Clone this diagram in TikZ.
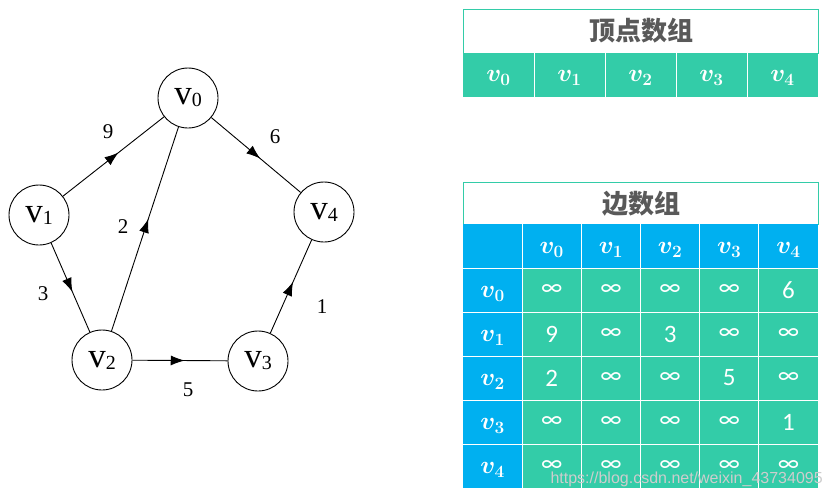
\documentclass[tikz,border=0pt]{standalone}
\usepackage{fontspec}
\setmainfont{Liberation Serif}
\newfontfamily\cjk{Noto Sans CJK SC}
\newfontfamily\calibri{Carlito}
\newfontfamily\wmfont{Liberation Sans}
\usepackage{tikz}
\usetikzlibrary{arrows.meta,decorations.markings}

\definecolor{tgreen}{RGB}{51,204,168}
\definecolor{tblue}{RGB}{0,176,240}
\definecolor{tgray}{RGB}{89,89,89}
\definecolor{wmgray}{RGB}{205,205,205}

\newcommand{\vlab}[1]{{\fontsize{35}{35}\selectfont v\raisebox{-2pt}{\fontsize{20}{20}\selectfont #1}}}
\newcommand{\mv}[1]{{\fontsize{27}{27}\selectfont\boldmath$v_{#1}$}}
\newcommand{\infsym}{∞}

\tikzset{
  vert/.style = {draw, circle, minimum size=60pt, inner sep=0pt, line width=0.9pt},
  midarrow/.style = {line width=0.9pt, decoration={markings,
      mark=at position 0.55 with {\arrow{Latex[length=14pt,width=10pt]}}},
      postaction={decorate}},
  wlabel/.style = {font=\fontsize{21}{21}\selectfont},
  title/.style = {font=\cjk\bfseries\fontsize{26}{26}\selectfont, text=tgray},
  numtxt/.style = {font=\calibri\fontsize{25}{25}\selectfont, text=white},
  gridline/.style = {white, line width=1pt}
}

\begin{document}
\begin{tikzpicture}[x=1pt,y=-1pt]
\useasboundingbox (0,0) rectangle (829,498);
              %vertices
\node [vert] (v0) at (188,98) {\vlab{0}};
\node [vert] (v1) at (39,215) {\vlab{1}};
\node [vert] (v2) at (102,360) {\vlab{2}};
\node [vert] (v3) at (258,361) {\vlab{3}};
\node [vert] (v4) at (324,212) {\vlab{4}};
              %edges
\draw [midarrow] (v1) -- (v0);
\draw [midarrow] (v0) -- (v4);
\draw [midarrow] (v2) -- (v0);
\draw [midarrow] (v1) -- (v2);
\draw [midarrow] (v2) -- (v3);
\draw [midarrow] (v3) -- (v4);
              %weights
\node [wlabel] (w9) at (108,132) {9};
\node [wlabel] (w6) at (275,137) {6};
\node [wlabel] (w2) at (123,227) {2};
\node [wlabel] (w3) at (43,294) {3};
\node [wlabel] (w5) at (188,390) {5};
\node [wlabel] (w1) at (322,307) {1};

\def\tx{463}
\def\cw{71}
\def\bw{59.17}
              %vertex array
\draw [tgreen, fill=white] (\tx,9) rectangle (818,53);
\node [title] (ttop) at (641,31) {顶点数组};
\fill [tgreen] (\tx,53) rectangle (818,97);
\foreach \i in {1,2,3,4}{
\draw [gridline] (\tx + \cw*\i,53) -- (\tx + \cw*\i,97);
}
\foreach \i in {0,1,2,3,4}{
\node [text=white] (a\i) at (\tx + \cw*\i + \cw/2,78) {\mv{\i}};
}
              %edge array
\draw [tgreen, fill=white] (\tx,182) rectangle (818,224);
\node [title] (tbot) at (641,204) {边数组};
\fill [tblue] (\tx,224) rectangle (818,268);
\fill [tblue] (\tx,268) rectangle (\tx + \bw,488);
\fill [tgreen] (\tx + \bw,268) rectangle (818,488);
\foreach \i in {1,2,3,4,5}{
\draw [gridline] (\tx + \bw*\i,224) -- (\tx + \bw*\i,488);
}
\foreach \j in {0,1,2,3,4}{
\draw [gridline] (\tx,268 + 44*\j) -- (818,268 + 44*\j);
}
\foreach \i in {0,1,2,3,4}{
\node [text=white] (h\i) at (\tx + \bw*\i + 1.5*\bw,250) {\mv{\i}};
\node [text=white] (r\i) at (\tx + \bw/2,294 + 44*\i) {\mv{\i}};
}
              %matrix entries
\foreach \r/\row in {0/{\infsym,\infsym,\infsym,\infsym,6},
                     1/{9,\infsym,3,\infsym,\infsym},
                     2/{2,\infsym,\infsym,5,\infsym},
                     3/{\infsym,\infsym,\infsym,\infsym,1},
                     4/{\infsym,\infsym,\infsym,\infsym,\infsym}}{
\foreach \val [count=\c] in \row {
\node [numtxt] (m\r\c) at (\tx + \bw*\c + \bw/2,290 + 44*\r) {\val};
}
}
              %watermark
\node [anchor=base west, font=\wmfont\fontsize{16}{16}\selectfont, text=wmgray] (wm) at (547,483) {https://blog.csdn.net/weixin\_43734095};
\end{tikzpicture}
\end{document}
